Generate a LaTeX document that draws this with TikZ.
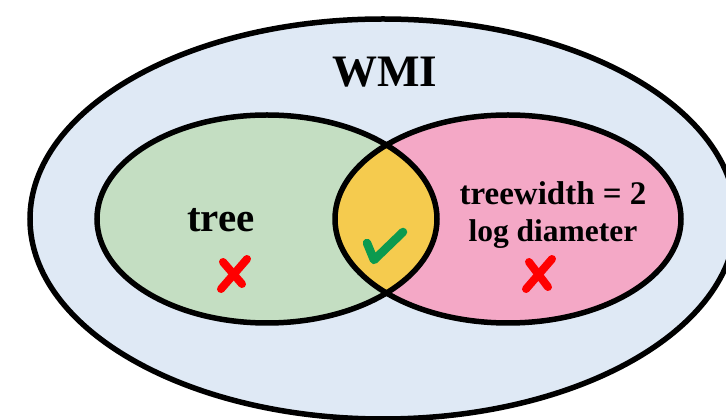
\documentclass[tikz,border=0pt]{standalone}
\usepackage{fontspec}
\setmainfont{Liberation Serif}
\definecolor{outerfill}{HTML}{DFE9F5}
\definecolor{greenfill}{HTML}{C4DEC2}
\definecolor{pinkfill}{HTML}{F4A8C6}
\definecolor{lensfill}{HTML}{F5CB4E}
\definecolor{checkgreen}{HTML}{0B9A4F}
\definecolor{crossred}{HTML}{FF0000}
\begin{document}
\begin{tikzpicture}[x=1pt,y=1pt,
  outline/.style={draw=black,line width=5.5pt},
  lbl/.style={font=\bfseries,anchor=base,inner sep=0pt},
  crossline/.style={crossred,line width=8pt,line cap=round},
  checkline/.style={checkgreen,line width=8.5pt,line cap=round,line join=round}]
\useasboundingbox (0,0) rectangle (726,420);
\clip (0,0) rectangle (726,420);
% outer set
\path[outline,fill=outerfill] (383,201) ellipse [x radius=353,y radius=200];
% inner sets
\path[fill=greenfill] (267,201) ellipse [x radius=170,y radius=104];
\path[fill=pinkfill] (508,201) ellipse [x radius=173,y radius=104];
\begin{scope}
  \clip (267,201) ellipse [x radius=170,y radius=104];
  \path[fill=lensfill] (508,201) ellipse [x radius=173,y radius=104];
\end{scope}
\path[outline] (267,201) ellipse [x radius=170,y radius=104];
\path[outline] (508,201) ellipse [x radius=173,y radius=104];
% labels
\node[lbl,font=\bfseries\fontsize{45}{48}\selectfont] (wmi) at (385,333) {WMI};
\node[lbl,font=\bfseries\fontsize{41}{44}\selectfont] (tree) at (221,188) {tree};
\node[lbl,font=\bfseries\fontsize{33}{36}\selectfont] (tw) at (553,215) {treewidth = 2};
\node[lbl,font=\bfseries\fontsize{31.5}{34}\selectfont] (ld) at (553,178) {log diameter};
% check mark
\coordinate (c1) at (367,177);
\coordinate (c2) at (374,160);
\coordinate (c3) at (403,188);
\draw[checkline] (c1) -- (c2) -- (c3);
% crosses
\coordinate (a1) at (223,158);
\coordinate (a2) at (242,136);
\coordinate (a3) at (247,161);
\coordinate (a4) at (221,131);
\draw[crossline] (a1) -- (a2);
\draw[crossline] (a3) -- (a4);
\coordinate (b1) at (529,158);
\coordinate (b2) at (548,133);
\coordinate (b3) at (552,161);
\coordinate (b4) at (526,131);
\draw[crossline] (b1) -- (b2);
\draw[crossline] (b3) -- (b4);
\end{tikzpicture}
\end{document}
